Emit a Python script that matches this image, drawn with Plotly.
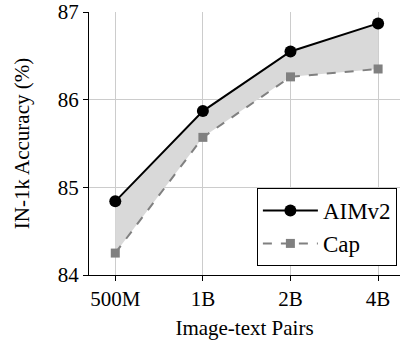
import plotly.graph_objects as go

categories = ["500M", "1B", "2B", "4B"]
aimv2 = [84.84, 85.87, 86.55, 86.87]
cap = [84.25, 85.57, 86.26, 86.35]
y_ticks = [84, 85, 86, 87]

FONT = "Liberation Serif"
xi = list(range(len(categories)))

fig = go.Figure()
fig.add_trace(go.Scatter(x=xi, y=cap, mode="lines", line=dict(width=0),
                         showlegend=False, hoverinfo="skip"))
fig.add_trace(go.Scatter(x=xi, y=aimv2, mode="lines", line=dict(width=0),
                         fill="tonexty", fillcolor="#d9d9d9",
                         showlegend=False, hoverinfo="skip"))
fig.add_trace(go.Scatter(x=xi, y=aimv2, name="AIMv2", mode="lines+markers",
                         line=dict(color="black", width=2),
                         marker=dict(symbol="circle", size=12, color="black")))
fig.add_trace(go.Scatter(x=xi, y=cap, name="Cap", mode="lines+markers",
                         line=dict(color="#808080", width=2, dash="dash"),
                         marker=dict(symbol="square", size=9, color="#808080")))

fig.update_layout(
    width=400, height=345,
    margin=dict(l=89, r=0, t=12, b=70),
    paper_bgcolor="white", plot_bgcolor="white",
    font=dict(family=FONT, size=21, color="black"),
    showlegend=True,
    legend=dict(x=0.99, y=0.034, xanchor="right", yanchor="bottom",
                traceorder="normal",
                bordercolor="black", borderwidth=1, bgcolor="white",
                font=dict(family=FONT, size=23), itemwidth=55,
                entrywidth=88, entrywidthmode="pixels",
                tracegroupgap=0),
    xaxis=dict(
        tickmode="array", tickvals=xi, ticktext=categories,
        range=[-0.3, 3.25], automargin=False, ticklabeloverflow="allow",
        showgrid=True, gridcolor="#cccccc", gridwidth=1,
        showline=True, linecolor="black", linewidth=1,
        ticks="outside", ticklen=5, tickcolor="black",
        zeroline=False,
        title=dict(text="Image-text Pairs", standoff=10,
                   font=dict(family=FONT, size=21)),
        tickfont=dict(family=FONT, size=21),
    ),
    yaxis=dict(
        range=[84, 87], tickvals=y_ticks, automargin=False,
        ticklabeloverflow="allow",
        showgrid=True, gridcolor="#cccccc", gridwidth=1,
        showline=True, linecolor="black", linewidth=1,
        ticks="outside", ticklen=5, tickcolor="black",
        zeroline=False,
        title=dict(text="IN-1k Accuracy (%)", standoff=22,
                   font=dict(family=FONT, size=21)),
        tickfont=dict(family=FONT, size=21),
    ),
)

fig.write_html("out.html",
               config={"displayModeBar": False},
               post_script="document.body.style.margin='0';"
                           "document.body.style.overflow='hidden';")
